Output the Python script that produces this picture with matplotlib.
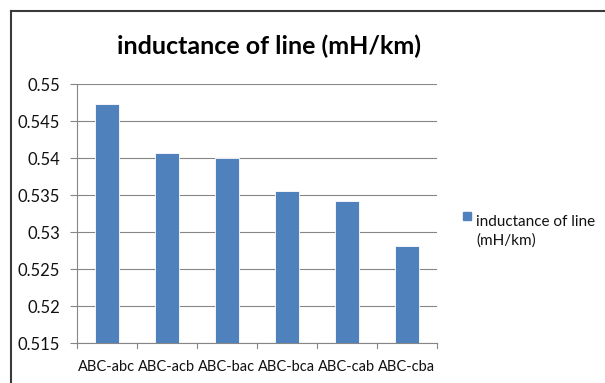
import matplotlib
matplotlib.use("Agg")
import matplotlib.pyplot as plt
from matplotlib.lines import Line2D

categories = ["ABC-abc", "ABC-acb", "ABC-bac", "ABC-bca", "ABC-cab", "ABC-cba"]
inductance = [0.5474, 0.5407, 0.5400, 0.5356, 0.5342, 0.5281]
yticks = [0.515, 0.52, 0.525, 0.53, 0.535, 0.54, 0.545, 0.55]
ytick_labels = ["0.515", "0.52", "0.525", "0.53", "0.535", "0.54", "0.545", "0.55"]
series_name = "inductance of line\n(mH/km)"
title = "inductance of line (mH/km)"

plt.rcParams["font.family"] = ["Lato", "DejaVu Sans"]

W, H = 605, 383
fig = plt.figure(figsize=(W / 100, H / 100), dpi=100)
fig.patch.set_facecolor("white")

# plot area in pixel coordinates
left, right, top, bottom = 77, 437, 84.3, 343.3
ax = fig.add_axes([left / W, 1 - bottom / H, (right - left) / W, (bottom - top) / H])

bar_color = "#4F81BD"
x = list(range(len(categories)))
ax.bar(x, [v - 0.515 for v in inductance], bottom=0.515, width=0.4,
       color=bar_color, edgecolor="#ffffff", linewidth=0.6, zorder=3)

ax.set_xlim(-0.5, len(categories) - 0.5)
ax.set_ylim(0.515, 0.55)
ax.set_yticks(yticks)
ax.set_yticklabels(ytick_labels)
ax.set_xticks(x)
ax.set_xticklabels(categories)
ax.tick_params(axis="x", length=0, pad=12, labelsize=10.5, labelcolor="#111111")
ax.tick_params(axis="y", length=5, width=0.8, color="#868686", pad=7,
               labelsize=12, labelcolor="#111111")

# category boundary ticks below the x axis
for b in range(len(categories) + 1):
    ax.plot([b - 0.5, b - 0.5], [0, -0.02], transform=ax.get_xaxis_transform(),
            color="#868686", lw=0.8, clip_on=False)

ax.yaxis.grid(True, color="#868686", linewidth=0.8, zorder=0)
ax.set_axisbelow(True)
for s in ["top", "right"]:
    ax.spines[s].set_visible(False)
for s in ["left", "bottom"]:
    ax.spines[s].set_color("#868686")
    ax.spines[s].set_linewidth(0.8)

fig.text(269 / W, 1 - 46 / H, title, ha="center", va="center",
         fontsize=18, fontweight="bold", color="black")

# legend
fig.patches.append(plt.Rectangle((463 / W, 1 - 220 / H), 8 / W, 8 / H,
                                 transform=fig.transFigure, color=bar_color))
fig.text(476 / W, 1 - 215 / H, series_name, ha="left", va="top",
         fontsize=11, color="#111111", linespacing=1.35,
         transform=fig.transFigure)

# chart frame
fig.add_artist(Line2D([10.5 / W, 10.5 / W], [0, 1 - 10.5 / H], color="#3a3a3a",
                      lw=1.5, transform=fig.transFigure))
fig.add_artist(Line2D([10.5 / W, 1], [1 - 10.5 / H, 1 - 10.5 / H], color="#3a3a3a",
                      lw=1.5, transform=fig.transFigure))

fig.savefig("out.png", dpi=100)
